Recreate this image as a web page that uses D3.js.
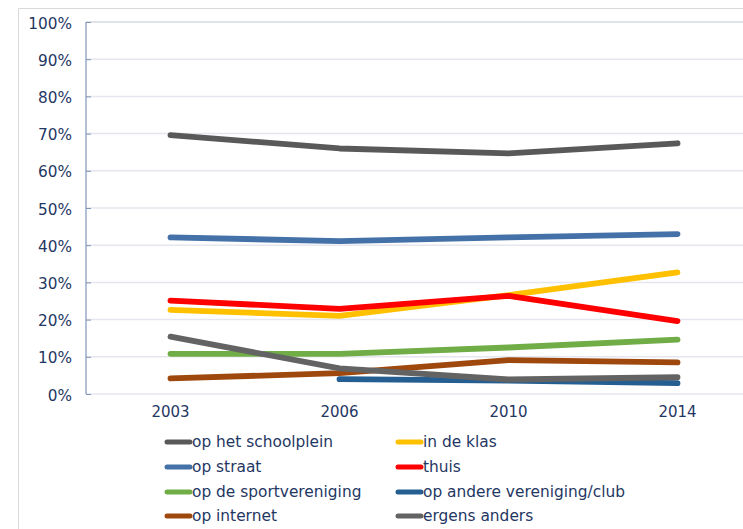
<!DOCTYPE html>
<html><head><meta charset="utf-8">
<script src="https://cdn.jsdelivr.net/npm/d3@7"></script>
<style>
html,body{margin:0;padding:0;background:#fff;}
svg{display:block;font-family:"DejaVu Sans",Verdana,sans-serif;}
</style></head>
<body>
<svg id="c" width="743" height="529"></svg>
<script>
const years = ["2003","2006","2010","2014"];
const yTicks = [0,0.1,0.2,0.3,0.4,0.5,0.6,0.7,0.8,0.9,1.0];
const seriesNames = ["op het schoolplein","in de klas","op straat","thuis","op de sportvereniging","op andere vereniging/club","op internet","ergens anders"];
const seriesColors = ["#595959","#ffc000","#4472a8","#ff0000","#70ad47","#255e91","#9e480e","#636363"];
const schoolplein = [0.696,0.660,0.647,0.674];
const klas = [0.226,0.210,0.266,0.327];
const straat = [0.421,0.411,0.421,0.430];
const thuis = [0.251,0.229,0.264,0.196];
const sport = [0.108,0.108,0.125,0.146];
const andere = [null,0.040,0.036,0.029];
const internet = [0.042,0.056,0.091,0.085];
const ergens = [0.154,0.069,0.039,0.045];
const seriesValues = [schoolplein,klas,straat,thuis,sport,andere,internet,ergens];

const svg = d3.select("#c");
const textColor = "#1f3763";

// outer border
svg.append("line").attr("x1",18.5).attr("x2",743).attr("y1",8.5).attr("y2",8.5).attr("stroke","#d9d9d9");
svg.append("line").attr("x1",18.5).attr("x2",18.5).attr("y1",8.5).attr("y2",529).attr("stroke","#d9d9d9");

const plotLeft = 86, plotTop = 22, plotBottom = 394, band = 169;
const x = d3.scaleBand().domain(years).range([plotLeft, plotLeft + band*years.length]).paddingInner(0).paddingOuter(0);
const xc = d => x(d) + x.bandwidth()/2;
const y = d3.scaleLinear().domain([0,1]).range([plotBottom, plotTop]);

// gridlines
svg.append("g").selectAll("line").data(yTicks).join("line")
  .attr("x1",plotLeft).attr("x2",743)
  .attr("y1",d=>y(d)).attr("y2",d=>y(d))
  .attr("stroke",d=> d===1 ? "#d5d9e2" : "#e6e6ee").attr("stroke-width",1.5);

// y axis
const yAxis = d3.axisLeft(y).tickValues(yTicks).tickFormat(d3.format(".0%")).tickSize(-5).tickPadding(14);
const gy = svg.append("g").attr("transform",`translate(${plotLeft},0)`).call(yAxis);
gy.select(".domain").attr("stroke","#8094b4").attr("stroke-width",1.2).attr("d",`M-0,${plotTop}V${plotBottom}`);
gy.selectAll(".tick line").attr("stroke","#8094b4");
gy.selectAll(".tick text").attr("fill",textColor).attr("font-size","15.3px").attr("font-family","DejaVu Sans, Verdana, sans-serif").attr("dy","0.4em");

// x axis labels
const xAxis = d3.axisBottom(x).tickSize(0).tickPadding(12);
const gx = svg.append("g").attr("transform",`translate(0,${plotBottom})`).call(xAxis);
gx.select(".domain").remove();
gx.selectAll(".tick text").attr("fill",textColor).attr("font-size","15px").attr("font-family","DejaVu Sans, Verdana, sans-serif");

// lines
const line = d3.line().defined(d=>d.v!=null).x(d=>xc(d.year)).y(d=>y(d.v));
seriesValues.forEach((vals,i)=>{
  const pts = years.map((yr,j)=>({year:yr,v:vals[j]}));
  svg.append("path").datum(pts).attr("d",line)
    .attr("fill","none").attr("stroke",seriesColors[i]).attr("stroke-width",5.8)
    .attr("stroke-linecap","round").attr("stroke-linejoin","round");
});

// legend
const legCols = [165, 396], legRows = [442, 467, 492, 516];
seriesNames.forEach((name,i)=>{
  const cx = legCols[i%2], cy = legRows[Math.floor(i/2)];
  const g = svg.append("g").attr("transform",`translate(${cx},${cy})`);
  g.append("line").attr("x1",2).attr("x2",25).attr("y1",0).attr("y2",0)
    .attr("stroke",seriesColors[i]).attr("stroke-width",5).attr("stroke-linecap","round");
  g.append("text").attr("x",27).attr("y",0).attr("dy","0.35em")
    .attr("fill",textColor).attr("font-size","15.4px").text(name);
});
</script>
</body></html>
